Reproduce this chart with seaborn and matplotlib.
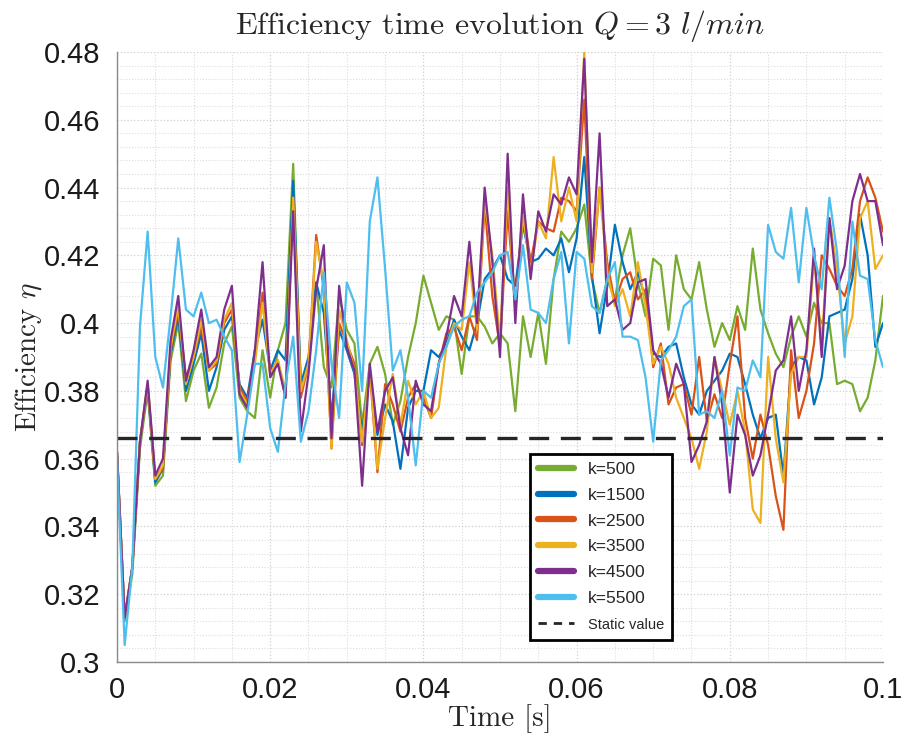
import numpy as np
import pandas as pd
import matplotlib
matplotlib.use("Agg")
import matplotlib.pyplot as plt
from matplotlib.lines import Line2D
from matplotlib.ticker import MultipleLocator, FormatStrFormatter
import seaborn as sns

# ---------------- data ----------------
time = np.linspace(0.0, 0.1, 101)

k500 = [0.360, 0.312, 0.326, 0.363, 0.380, 0.352, 0.355, 0.389, 0.400, 0.377,
        0.386, 0.391, 0.375, 0.381, 0.394, 0.399, 0.378, 0.374, 0.372, 0.392,
        0.378, 0.392, 0.400, 0.447, 0.380, 0.388, 0.412, 0.387, 0.381, 0.408,
        0.398, 0.394, 0.370, 0.388, 0.393, 0.385, 0.370, 0.377, 0.390, 0.400,
        0.414, 0.406, 0.398, 0.402, 0.401, 0.385, 0.402, 0.402, 0.399, 0.394,
        0.397, 0.394, 0.374, 0.402, 0.390, 0.403, 0.388, 0.413, 0.427, 0.424,
        0.428, 0.435, 0.413, 0.403, 0.413, 0.407, 0.420, 0.428, 0.412, 0.402,
        0.419, 0.417, 0.398, 0.420, 0.410, 0.407, 0.418, 0.404, 0.393, 0.400,
        0.395, 0.405, 0.398, 0.422, 0.404, 0.397, 0.391, 0.387, 0.396, 0.402,
        0.396, 0.406, 0.400, 0.400, 0.382, 0.383, 0.382, 0.374, 0.378, 0.389, 0.408]

k1500 = [0.362, 0.313, 0.328, 0.365, 0.381, 0.353, 0.357, 0.391, 0.402, 0.380,
         0.388, 0.397, 0.380, 0.387, 0.398, 0.402, 0.382, 0.378, 0.392, 0.401,
         0.386, 0.392, 0.389, 0.442, 0.382, 0.390, 0.412, 0.403, 0.372, 0.398,
         0.392, 0.385, 0.368, 0.385, 0.367, 0.376, 0.371, 0.357, 0.375, 0.380,
         0.380, 0.392, 0.390, 0.394, 0.401, 0.396, 0.392, 0.400, 0.413, 0.416,
         0.420, 0.413, 0.411, 0.429, 0.418, 0.419, 0.422, 0.420, 0.425, 0.415,
         0.425, 0.449, 0.414, 0.397, 0.411, 0.429, 0.418, 0.410, 0.415, 0.407,
         0.391, 0.390, 0.393, 0.394, 0.384, 0.376, 0.373, 0.380, 0.383, 0.386,
         0.391, 0.390, 0.382, 0.373, 0.366, 0.372, 0.373, 0.355, 0.387, 0.390,
         0.389, 0.376, 0.384, 0.402, 0.403, 0.404, 0.413, 0.432, 0.420, 0.393, 0.400]

k2500 = [0.362, 0.313, 0.328, 0.365, 0.382, 0.354, 0.357, 0.392, 0.404, 0.384,
         0.390, 0.399, 0.386, 0.388, 0.400, 0.404, 0.381, 0.377, 0.390, 0.409,
         0.385, 0.389, 0.378, 0.437, 0.378, 0.388, 0.426, 0.410, 0.363, 0.400,
         0.394, 0.388, 0.364, 0.386, 0.356, 0.382, 0.376, 0.368, 0.378, 0.382,
         0.378, 0.372, 0.388, 0.397, 0.399, 0.392, 0.402, 0.395, 0.435, 0.408,
         0.393, 0.433, 0.405, 0.434, 0.418, 0.430, 0.428, 0.427, 0.437, 0.436,
         0.433, 0.466, 0.413, 0.440, 0.418, 0.406, 0.413, 0.415, 0.407, 0.410,
         0.387, 0.394, 0.376, 0.381, 0.382, 0.373, 0.390, 0.371, 0.379, 0.372,
         0.388, 0.402, 0.372, 0.360, 0.373, 0.364, 0.349, 0.339, 0.392, 0.372,
         0.380, 0.394, 0.420, 0.416, 0.411, 0.408, 0.416, 0.436, 0.443, 0.437, 0.427]

k3500 = [0.362, 0.313, 0.328, 0.365, 0.382, 0.354, 0.358, 0.393, 0.405, 0.382,
         0.390, 0.401, 0.386, 0.389, 0.401, 0.406, 0.380, 0.376, 0.388, 0.406,
         0.385, 0.389, 0.380, 0.437, 0.380, 0.388, 0.424, 0.412, 0.363, 0.404,
         0.395, 0.386, 0.365, 0.387, 0.357, 0.372, 0.385, 0.370, 0.383, 0.376,
         0.380, 0.372, 0.375, 0.393, 0.400, 0.398, 0.418, 0.398, 0.436, 0.420,
         0.395, 0.440, 0.403, 0.432, 0.415, 0.430, 0.425, 0.449, 0.430, 0.440,
         0.430, 0.480, 0.415, 0.440, 0.415, 0.405, 0.410, 0.402, 0.418, 0.405,
         0.388, 0.393, 0.388, 0.378, 0.372, 0.366, 0.357, 0.368, 0.390, 0.380,
         0.370, 0.380, 0.368, 0.345, 0.341, 0.390, 0.366, 0.353, 0.385, 0.390,
         0.390, 0.419, 0.394, 0.431, 0.416, 0.394, 0.402, 0.431, 0.436, 0.416, 0.420]

k4500 = [0.362, 0.313, 0.328, 0.365, 0.383, 0.355, 0.360, 0.395, 0.408, 0.383,
         0.392, 0.404, 0.387, 0.390, 0.404, 0.411, 0.379, 0.375, 0.392, 0.418,
         0.384, 0.388, 0.378, 0.433, 0.368, 0.385, 0.410, 0.423, 0.366, 0.411,
         0.393, 0.386, 0.352, 0.388, 0.368, 0.380, 0.384, 0.369, 0.361, 0.383,
         0.376, 0.374, 0.388, 0.396, 0.408, 0.402, 0.424, 0.400, 0.440, 0.418,
         0.390, 0.450, 0.400, 0.438, 0.413, 0.433, 0.427, 0.438, 0.435, 0.443,
         0.438, 0.478, 0.418, 0.456, 0.405, 0.407, 0.398, 0.400, 0.412, 0.413,
         0.392, 0.388, 0.378, 0.388, 0.382, 0.359, 0.364, 0.371, 0.390, 0.376,
         0.350, 0.373, 0.367, 0.355, 0.361, 0.373, 0.386, 0.389, 0.402, 0.380,
         0.392, 0.422, 0.390, 0.431, 0.410, 0.417, 0.436, 0.444, 0.436, 0.436, 0.423]

k5500 = [0.360, 0.305, 0.328, 0.399, 0.427, 0.390, 0.381, 0.402, 0.425, 0.404,
         0.402, 0.409, 0.400, 0.401, 0.396, 0.392, 0.359, 0.373, 0.388, 0.388,
         0.369, 0.362, 0.382, 0.396, 0.365, 0.374, 0.392, 0.415, 0.388, 0.372,
         0.412, 0.406, 0.380, 0.430, 0.443, 0.416, 0.386, 0.392, 0.378, 0.358,
         0.380, 0.378, 0.388, 0.393, 0.399, 0.401, 0.402, 0.409, 0.412, 0.415,
         0.420, 0.421, 0.407, 0.423, 0.404, 0.403, 0.400, 0.413, 0.421, 0.394,
         0.421, 0.419, 0.405, 0.403, 0.413, 0.418, 0.396, 0.396, 0.395, 0.384,
         0.365, 0.389, 0.392, 0.396, 0.405, 0.407, 0.373, 0.374, 0.372, 0.380,
         0.361, 0.381, 0.380, 0.389, 0.384, 0.429, 0.421, 0.419, 0.434, 0.412,
         0.434, 0.420, 0.410, 0.437, 0.421, 0.390, 0.430, 0.414, 0.413, 0.395, 0.387]

series_labels = ["k=500", "k=1500", "k=2500", "k=3500", "k=4500", "k=5500"]
static_value = 0.366
x_ticks = [0, 0.02, 0.04, 0.06, 0.08, 0.1]
y_ticks = [0.3, 0.32, 0.34, 0.36, 0.38, 0.4, 0.42, 0.44, 0.46, 0.48]

colors = ["#77AC30", "#0072BD", "#D95319", "#EDB120", "#7E2F8E", "#4DBEEE"]

# ---------------- build long table ----------------
all_series = [k500, k1500, k2500, k3500, k4500, k5500]
frames = []
for lab, vals in zip(series_labels, all_series):
    frames.append(pd.DataFrame({"t": time, "eff": vals, "k": lab}))
df = pd.concat(frames, ignore_index=True)

# ---------------- plot ----------------
sns.set_style("white")
plt.rcParams["font.family"] = ["Liberation Sans", "DejaVu Sans"]
plt.rcParams["mathtext.fontset"] = "cm"

fig = plt.figure(figsize=(9.04, 7.49), dpi=100)
ax = fig.add_axes([117 / 904, 87 / 749, 766 / 904, 610 / 749])

sns.lineplot(data=df, x="t", y="eff", hue="k", hue_order=series_labels,
             palette=colors, linewidth=1.6, estimator=None, sort=False,
             legend=False, ax=ax)
ax.axhline(static_value, color="#262626", linestyle=(0, (6, 3.5)), linewidth=2.4)

ax.set_xlim(0, 0.1)
ax.set_ylim(0.3, 0.48)
ax.set_xticks(x_ticks)
ax.set_yticks(y_ticks)
ax.xaxis.set_major_formatter(FormatStrFormatter("%g"))
ax.yaxis.set_major_formatter(FormatStrFormatter("%g"))
ax.xaxis.set_minor_locator(MultipleLocator(0.005))
ax.yaxis.set_minor_locator(MultipleLocator(0.004))

ax.grid(True, which="major", color="#cfcfcf", linestyle=":", linewidth=0.9)
ax.grid(True, which="minor", color="#dcdcdc", linestyle=":", linewidth=0.8)
ax.set_axisbelow(True)

for side in ["top", "right"]:
    ax.spines[side].set_visible(False)
for side in ["left", "bottom"]:
    ax.spines[side].set_color("#8a8a8a")
    ax.spines[side].set_linewidth(1.0)

ax.tick_params(axis="both", which="major", direction="in", length=5,
               color="#555555", labelsize=21, labelcolor="#1a1a1a")
ax.tick_params(axis="y", which="major", pad=12)
ax.tick_params(axis="x", which="major", pad=10)
ax.tick_params(axis="both", which="minor", length=0)

ax.set_title(r"Efficiency time evolution $Q = 3\ l/min$", fontsize=23,
             fontfamily="cmr10", pad=13)
ax.set_xlabel(r"Time [s]", fontsize=21, fontfamily="cmr10", labelpad=0)
ax.set_ylabel(r"Efficiency $\eta$", fontsize=21, fontfamily="cmr10", labelpad=0)

handles = [Line2D([0], [0], color=c, lw=4.5) for c in colors]
handles.append(Line2D([0], [0], color="#262626", lw=2.0, linestyle=(0, (3, 2.5))))
labels = series_labels + ["Static value"]
leg = ax.legend(handles, labels, loc="lower left", bbox_to_anchor=(0.539, 0.036),
                borderaxespad=0.0, frameon=True, fancybox=False, fontsize=12.5,
                handlelength=2.1, labelspacing=0.62, borderpad=0.45,
                handletextpad=0.8, edgecolor="black", framealpha=1)
leg.get_frame().set_linewidth(2.0)
for txt in leg.get_texts()[-1:]:
    txt.set_fontsize(10.5)

fig.savefig("out.png", dpi=100)
